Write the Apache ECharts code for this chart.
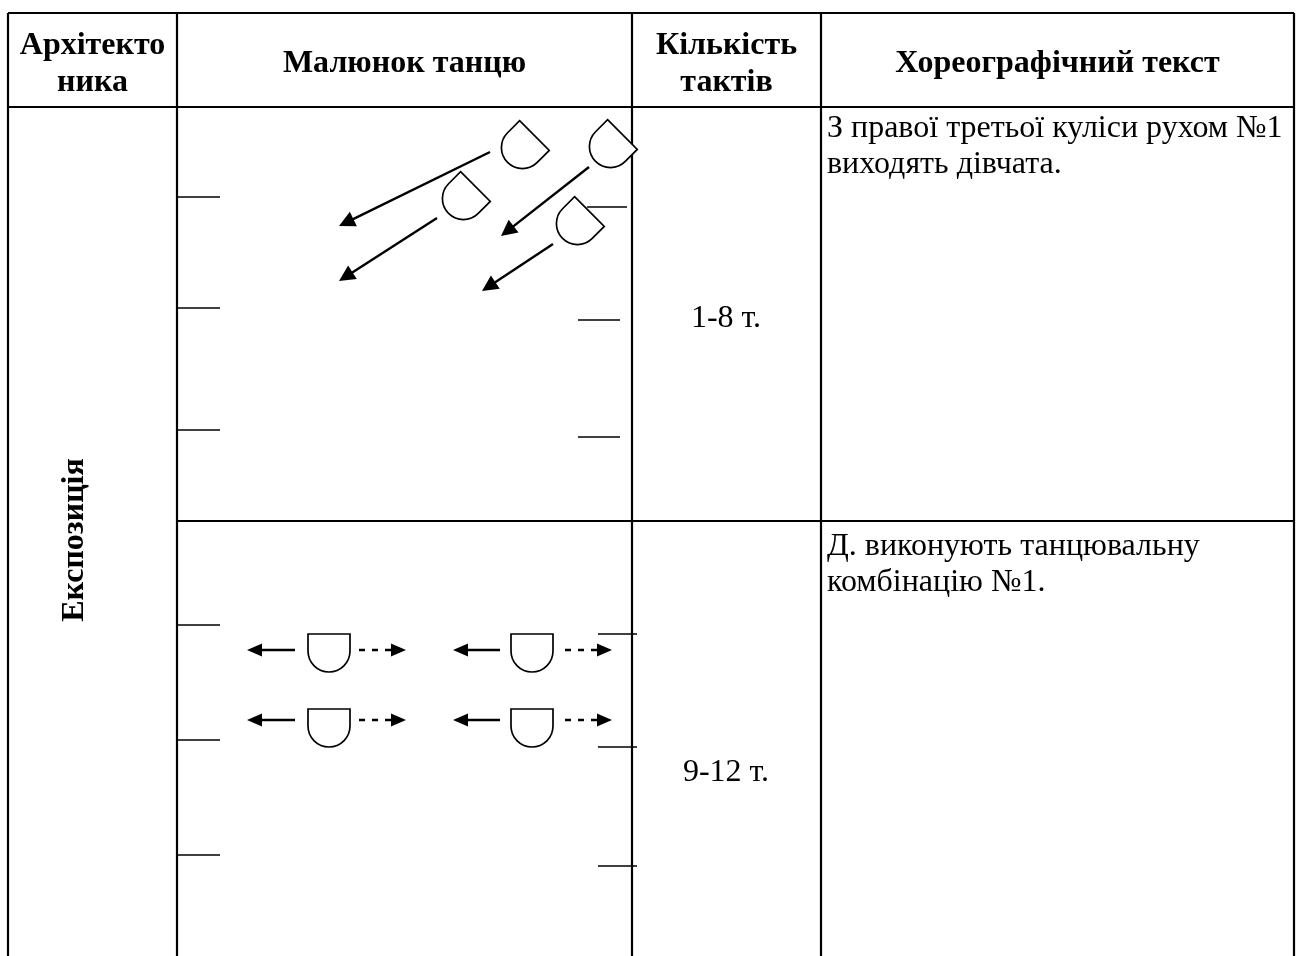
<!DOCTYPE html>
<html>
<head>
<meta charset="utf-8">
<script src="https://cdn.jsdelivr.net/npm/echarts@6/dist/echarts.min.js"></script>
<style>
  html, body { margin: 0; padding: 0; background: #fff; }
  #chart { width: 1301px; height: 956px; }
</style>
</head>
<body>
<div id="chart"></div>
<script>
// table frame (page units)
const colEdges = [8, 177, 632, 821, 1294]
const rowEdges = [13, 107, 521, 956]

// texts
const headerLabels = ['Архітекто\nника', 'Малюнок танцю', 'Кількість\nтактів', 'Хореографічний текст']
const sectionName = 'Експозиція'
const sectionPos = [75, 540]
const barCounts = ['1-8 т.', '9-12 т.']
const barCountPos = [[726, 319], [726, 773]]
const choreoTexts = [
  'З правої третьої куліси рухом №1\nвиходять дівчата.',
  'Д. виконують танцювальну\nкомбінацію №1.'
]
const choreoPos = [[827, 111], [827, 529]]

// stage wings (куліси)
const leftWingY = [197, 308, 430, 625, 740, 855]
const rightWings = [[587, 627, 207], [578, 620, 320], [578, 620, 437], [598, 637, 634], [598, 637, 747], [598, 637, 866]]

// dancers: [x, y, facing angle in degrees, 0 = to the audience]
const dancersEntry = [[521, 149, 45], [609, 148, 45], [462, 200, 45], [576, 225, 45]]
const dancersLine = [[329, 653, 0], [532, 653, 0], [329, 728, 0], [532, 728, 0]]

// paths: [fromX, fromY, toX, toY]
const entryPaths = [[490, 152, 339, 226], [589, 167, 501, 236], [437, 218, 339, 281], [553, 244, 482, 291]]
const stepLeft = [[295, 650, 247, 650], [500, 650, 453, 650], [295, 720, 247, 720], [500, 720, 453, 720]]
const stepRight = [[359, 650, 406, 650], [565, 650, 612, 650], [359, 720, 406, 720], [565, 720, 612, 720]]

const serif = '"Liberation Serif", "Times New Roman", serif'

// table segments built from the frame
const frameSegs = []
frameSegs.push([colEdges[0], rowEdges[0], colEdges[4], rowEdges[0]])
frameSegs.push([colEdges[0], rowEdges[1], colEdges[4], rowEdges[1]])
frameSegs.push([colEdges[1], rowEdges[2], colEdges[4], rowEdges[2]])
colEdges.forEach(x => frameSegs.push([x, rowEdges[0], x, rowEdges[3]]))

const wingSegs = leftWingY.map(y => [colEdges[1], y, colEdges[1] + 43, y])
  .concat(rightWings.map(w => [w[0], w[2], w[1], w[2]]))

function segRender(width) {
  return function (params, api) {
    const p1 = api.coord([api.value(0), api.value(1)])
    const p2 = api.coord([api.value(2), api.value(3)])
    return {
      type: 'line',
      shape: { x1: p1[0], y1: p1[1], x2: p2[0], y2: p2[1] },
      style: { stroke: '#000', lineWidth: width }
    }
  }
}

function arrowRender(dashed, head, half) {
  return function (params, api) {
    const p1 = api.coord([api.value(0), api.value(1)])
    const p2 = api.coord([api.value(2), api.value(3)])
    const dx = p2[0] - p1[0], dy = p2[1] - p1[1]
    const len = Math.sqrt(dx * dx + dy * dy)
    const ux = dx / len, uy = dy / len
    const bx = p2[0] - ux * head, by = p2[1] - uy * head
    return {
      type: 'group',
      children: [
        {
          type: 'line',
          shape: { x1: p1[0], y1: p1[1], x2: bx + ux * 2, y2: by + uy * 2 },
          style: { stroke: '#000', lineWidth: 2.4, lineDash: dashed ? [6, 7] : null }
        },
        {
          type: 'polygon',
          shape: { points: [p2, [bx - uy * half, by + ux * half], [bx + uy * half, by - ux * half]] },
          style: { fill: '#000' }
        }
      ]
    }
  }
}

function dancerRender(params, api) {
  const p = api.coord([api.value(0), api.value(1)])
  return {
    type: 'path',
    x: p[0],
    y: p[1],
    rotation: -api.value(2) * Math.PI / 180,
    shape: { pathData: 'M-21,-19 L21,-19 L21,-2 A21,21 0 0 1 -21,-2 Z' },
    style: { fill: '#fff', stroke: '#000', lineWidth: 1.7 }
  }
}

function textRender(getText, font, align, vAlign, lineHeight) {
  return function (params, api) {
    const p = api.coord([api.value(0), api.value(1)])
    return {
      type: 'text',
      x: p[0],
      y: p[1],
      style: {
        text: getText(params.dataIndex),
        font: font,
        fill: '#000',
        align: align,
        verticalAlign: vAlign,
        lineHeight: lineHeight
      }
    }
  }
}

const chart = echarts.init(document.getElementById('chart'))

const option = {
  animation: false,
  backgroundColor: '#fff',
  grid: { left: 0, right: 0, top: 0, bottom: 0 },
  xAxis: { type: 'value', min: 0, max: 1301, show: false },
  yAxis: { type: 'value', min: 0, max: 956, inverse: true, show: false },
  series: [
    { type: 'custom', name: 'frame', clip: false, data: frameSegs, renderItem: segRender(2.2) },
    { type: 'custom', name: 'wings', clip: false, data: wingSegs, renderItem: segRender(1.6) },
    { type: 'custom', name: 'entry', clip: false, data: entryPaths, renderItem: arrowRender(false, 16, 8) },
    { type: 'custom', name: 'stepLeft', clip: false, data: stepLeft, renderItem: arrowRender(false, 15, 6.5) },
    { type: 'custom', name: 'stepRight', clip: false, data: stepRight, renderItem: arrowRender(true, 15, 6.5) },
    { type: 'custom', name: 'dancers', clip: false, data: dancersEntry.concat(dancersLine), renderItem: dancerRender },
    {
      type: 'custom', name: 'headers', clip: false,
      data: headerLabels.map((t, i) => [(colEdges[i] + colEdges[i + 1]) / 2, (rowEdges[0] + rowEdges[1]) / 2 + 4]),
      renderItem: textRender(i => headerLabels[i], 'bold 32px ' + serif, 'center', 'middle', 37)
    },
    {
      type: 'custom', name: 'section', clip: false,
      data: [sectionPos],
      renderItem: function (params, api) {
        const p = api.coord([api.value(0), api.value(1)])
        return {
          type: 'text', x: p[0], y: p[1], rotation: Math.PI / 2,
          style: { text: sectionName, font: 'bold 32px ' + serif, fill: '#000', align: 'center', verticalAlign: 'middle' }
        }
      }
    },
    {
      type: 'custom', name: 'bars', clip: false,
      data: barCountPos,
      renderItem: textRender(i => barCounts[i], '32px ' + serif, 'center', 'middle', 36)
    },
    {
      type: 'custom', name: 'choreo', clip: false,
      data: choreoPos,
      renderItem: textRender(i => choreoTexts[i], '32px ' + serif, 'left', 'top', 36)
    }
  ]
}

chart.setOption(option)
</script>
</body>
</html>
